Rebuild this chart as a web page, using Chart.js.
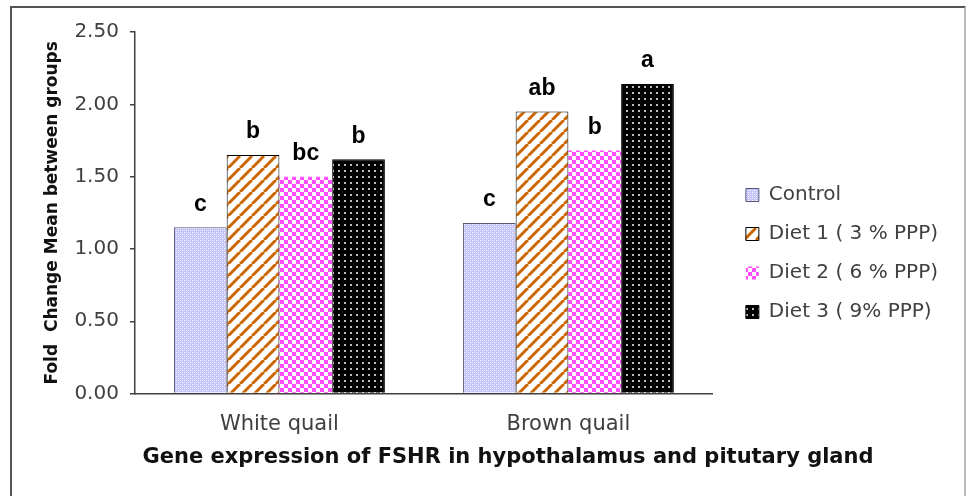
<!DOCTYPE html>
<html lang="en">
<head>
    <meta charset="UTF-8">
    <title>FSHR Fold Change</title>
    <script src="https://cdn.jsdelivr.net/npm/chart.js@4.4.0/dist/chart.umd.min.js"></script>
    <style>
        html, body { margin: 0; padding: 0; background: #fff; overflow: hidden; }
        #frame {
            position: absolute; left: 10px; top: 6px; width: 952px; height: 600px;
            border: 2px solid #555; border-right-color: #bbb;
        }
        #fshrChart { position: absolute; left: 0; top: 0; }
    </style>
</head>
<body>
    <div id="frame"></div>
    <canvas id="fshrChart" width="966" height="496"></canvas>

    <script>
        // data
        const categories = ['White quail', 'Brown quail'];
        const seriesNames = ['Control', 'Diet 1 ( 3 % PPP)', 'Diet 2 ( 6 % PPP)', 'Diet 3 ( 9% PPP)'];
        const controlValues = [1.15, 1.18];
        const diet1Values = [1.65, 1.95];
        const diet2Values = [1.50, 1.68];
        const diet3Values = [1.62, 2.14];
        const controlLetters = ['c', 'c'];
        const diet1Letters = ['b', 'ab'];
        const diet2Letters = ['bc', 'b'];
        const diet3Letters = ['b', 'a'];
        const yTicks = [0, 0.5, 1.0, 1.5, 2.0, 2.5];

        // fill patterns
        function makePattern(size, paint) {
            const c = document.createElement('canvas');
            c.width = size; c.height = size;
            const g = c.getContext('2d');
            paint(g, size);
            return g.createPattern(c, 'repeat');
        }
        const ctx = document.getElementById('fshrChart').getContext('2d');

        const controlFill = makePattern(4, function(g) {
            g.fillStyle = '#c4c4fb';
            g.fillRect(0, 0, 4, 4);
            g.fillStyle = '#ffffff';
            g.fillRect(0, 0, 1, 1);
            g.fillRect(2, 2, 1, 1);
            g.fillStyle = '#e2e2fd';
            g.fillRect(2, 0, 1, 1);
            g.fillRect(0, 2, 1, 1);
        });
        const diet1Fill = makePattern(12, function(g, s) {
            g.fillStyle = '#ffffff';
            g.fillRect(0, 0, s, s);
            g.strokeStyle = '#cc6600';
            g.lineWidth = 3;
            [-s, 0, s].forEach(function(x0) {
                g.beginPath();
                g.moveTo(x0, s);
                g.lineTo(x0 + s, 0);
                g.stroke();
            });
        });
        const diet2Fill = makePattern(8, function(g) {
            g.fillStyle = '#ff4dff';
            g.fillRect(0, 0, 8, 8);
            g.fillStyle = '#ffffff';
            g.fillRect(0, 0, 4, 4);
            g.fillRect(4, 4, 4, 4);
        });
        const diet3Fill = makePattern(6, function(g) {
            g.fillStyle = '#000000';
            g.fillRect(0, 0, 6, 6);
            g.fillStyle = '#bdbdbd';
            g.fillRect(2, 2, 2, 2);
        });

        const letterSets = [controlLetters, diet1Letters, diet2Letters, diet3Letters];

        // letters of significance above the bars
        const letterPlugin = {
            id: 'letters',
            afterDatasetsDraw(chart) {
                const c = chart.ctx;
                c.save();
                c.font = 'bold 23px "Liberation Sans", Arial, sans-serif';
                c.fillStyle = '#000';
                c.textAlign = 'center';
                c.textBaseline = 'middle';
                chart.data.datasets.forEach(function(ds, di) {
                    chart.getDatasetMeta(di).data.forEach(function(bar, i) {
                        c.fillText(letterSets[di][i], bar.x, bar.y - 23);
                    });
                });
                c.restore();
            }
        };

        // move legend and caption to where the figure has them
        const nudgePlugin = {
            id: 'nudge',
            afterLayout(chart) {
                const lg = chart.legend;
                const dy = 185 - (lg.top + lg.options.labels.padding);
                lg.top += dy; lg.bottom += dy;
                lg.left += 14; lg.right += 14;
                const t = chart.titleBlock;
                const dx = 508 - (t.left + t.right) / 2;
                t.left += dx; t.right += dx;
            }
        };

        const fshrChart = new Chart(ctx, {
            type: 'bar',
            data: {
                labels: categories,
                datasets: [
                    { label: seriesNames[0], data: controlValues, backgroundColor: controlFill, borderColor: '#555577', borderWidth: 1 },
                    { label: seriesNames[1], data: diet1Values, backgroundColor: diet1Fill, borderColor: '#000', borderWidth: 1 },
                    { label: seriesNames[2], data: diet2Values, backgroundColor: diet2Fill, borderWidth: 0 },
                    { label: seriesNames[3], data: diet3Values, backgroundColor: diet3Fill, borderColor: '#000', borderWidth: 1 }
                ]
            },
            options: {
                responsive: false,
                animation: false,
                devicePixelRatio: 1,
                categoryPercentage: 0.73,
                barPercentage: 1.0,
                layout: { padding: { left: 20, right: 32, top: 32, bottom: 0 } },
                plugins: {
                    tooltip: { enabled: false },
                    legend: {
                        position: 'right',
                        align: 'start',
                        labels: {
                            boxWidth: 13,
                            boxHeight: 13,
                            padding: 19,
                            color: '#404040',
                            font: { family: '"DejaVu Sans", sans-serif', size: 20 }
                        }
                    },
                    title: {
                        display: true,
                        position: 'bottom',
                        text: 'Gene expression of FSHR in hypothalamus and pitutary gland',
                        color: '#111',
                        font: { family: '"DejaVu Sans", sans-serif', size: 21, weight: 'bold' },
                        padding: { top: -10, bottom: 26 }
                    }
                },
                scales: {
                    x: {
                        grid: { display: false, drawTicks: false },
                        border: { display: true, color: '#404040', width: 1.5 },
                        ticks: {
                            padding: 18,
                            color: '#404040',
                            font: { family: '"DejaVu Sans", sans-serif', size: 21 }
                        }
                    },
                    y: {
                        min: 0,
                        max: 2.5,
                        afterBuildTicks: function(axis) {
                            axis.ticks = yTicks.map(function(v) { return { value: v }; });
                        },
                        grid: {
                            display: true,
                            drawOnChartArea: false,
                            drawTicks: true,
                            tickLength: 5,
                            color: '#404040',
                            lineWidth: 1.5
                        },
                        border: { display: true, color: '#404040', width: 1.5 },
                        ticks: {
                            padding: 11,
                            color: '#404040',
                            font: { family: '"DejaVu Sans", sans-serif', size: 20 },
                            callback: function(v) { return Number(v).toFixed(2); }
                        },
                        title: {
                            display: true,
                            text: 'Fold  Change Mean between groups',
                            color: '#111',
                            font: { family: '"DejaVu Sans", sans-serif', size: 17, weight: 'bold' },
                            padding: { top: 22, bottom: 1 }
                        }
                    }
                }
            },
            plugins: [letterPlugin, nudgePlugin]
        });
    </script>
</body>
</html>
